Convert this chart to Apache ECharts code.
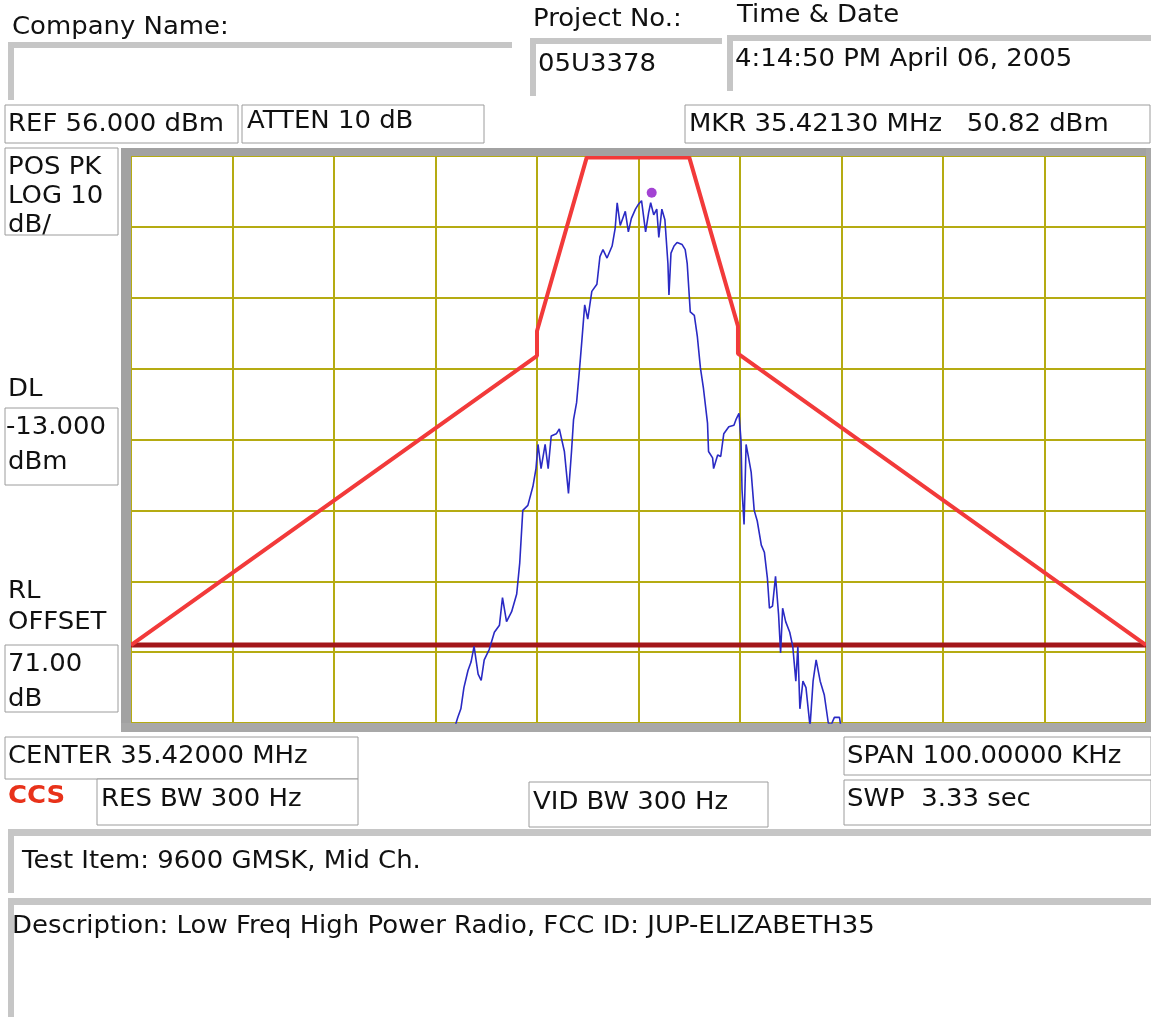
<!DOCTYPE html>
<html>
<head>
<meta charset="utf-8">
<script src="https://cdn.jsdelivr.net/npm/echarts@6/dist/echarts.min.js"></script>
<style>
html, body { margin: 0; padding: 0; background: #fff; }
#chart { width: 1151px; height: 1017px; }
</style>
</head>
<body>
<div id="chart"></div>
<script>
// analyzer settings, x values are kHz offset from center 35.42 MHz
const refLevel = 56
const bottomLevel = -24
const halfSpan = 50
const dlLevel = -13

// emission limit mask (red)
const maskFreq = [-50, -10, -10, -5.1, 5.0, 9.8, 9.8, 50]
const maskLevel = [-13, 27.8, 31.3, 55.8, 55.8, 32.0, 28.1, -13]

const traceFreq = [
  -18.6, -18.3, -17.8, -17.5, -17.2, -16.8, -16.5, -16.2, -15.8, -15.5,
  -15.2, -14.7, -14.2, -13.7, -13.4, -13.0, -12.5, -12.0, -11.7, -11.4,
  -10.9, -10.4, -10.1, -9.9, -9.6, -9.2, -8.9, -8.6, -8.1, -7.8,
  -7.3, -6.9, -6.6, -6.4, -6.1, -5.8, -5.6, -5.3, -5.0, -4.6,
  -4.1, -3.8, -3.5, -3.1, -2.6, -2.3, -2.1, -1.8, -1.3, -1.0,
  -0.7, -0.3,
  0.0, 0.3, 0.7, 1.0, 1.2, 1.5, 1.8, 2.0, 2.3, 2.6,
  2.9, 3.0, 3.2, 3.5, 3.8, 4.3, 4.6, 4.8, 5.1, 5.5,
  5.8, 6.1, 6.4, 6.8, 6.9, 7.3, 7.4, 7.8, 8.1, 8.4,
  8.9, 9.4, 9.6, 9.9, 10.1, 10.2, 10.4, 10.6, 10.8, 11.1,
  11.4, 11.7, 12.1, 12.4, 12.7, 12.9, 13.2, 13.5, 13.8, 14.0,
  14.2, 14.5, 14.9, 15.2, 15.5, 15.7, 15.9, 16.2, 16.5, 16.9,
  17.2, 17.5, 17.9, 18.3, 18.7, 19.0, 19.3, 19.8, 20.1
]
const traceLevel = [
  -27, -25.5, -23.2, -22, -19, -16.6, -15.4, -13.2, -17.1, -18,
  -15.1, -13.6, -11.2, -10.2, -6.3, -9.7, -8.3, -5.8, -1.4, 6.0,
  6.7, 9.4, 11.9, 15.3, 11.9, 15.3, 11.9, 16.5, 16.8, 17.5,
  14.3, 8.4, 14.3, 18.8, 21.2, 26.1, 29.6, 35.0, 33.0, 36.9,
  37.9, 41.8, 42.8, 41.6, 43.3, 45.8, 49.4, 46.2, 48.2, 45.3,
  47.2, 48.5,
  49.2, 49.7, 45.3, 48.0, 49.4, 47.7, 48.5, 44.5, 48.5, 47.0,
  40.8, 36.4, 42.3, 43.3, 43.8, 43.5, 42.8, 40.8, 34.0, 33.5,
  30.5, 26.1, 23.2, 18.3, 14.3, 13.4, 11.9, 13.8, 13.6, 16.8,
  17.8, 18.0, 18.8, 19.7, 15.8, 8.9, 4.0, 15.3, 13.8, 11.4,
  6.0, 4.5, 1.1, 0.1, -3.6, -7.8, -7.5, -3.3, -8.7, -14.1,
  -7.8, -9.7, -11.2, -13.2, -18.1, -13.2, -22, -18.1, -19, -24.5,
  -18.1, -15.1, -18.1, -20, -24, -24.2, -23.2, -23.2, -26
]

// marker: 35.42130 MHz, 50.82 dBm
const markerFreq = 1.3
const markerLevel = 50.82

const FONT = '"DejaVu Sans", Verdana, sans-serif'
const chart = echarts.init(document.getElementById('chart'))

// the analyzer font is a bit stretched sideways, so widen the text a little
function txt(x, y, text, extra) {
  return {
    type: 'text', x: x, y: y, z: 10, scaleX: 1.08,
    style: Object.assign({
      text: text, fill: '#111', fontSize: 24, fontFamily: FONT,
      verticalAlign: 'middle'
    }, extra || {})
  }
}
function box(x, y, w, h) {
  return {
    type: 'rect', z: 5,
    shape: { x: x, y: y, width: w, height: h },
    style: { fill: '#fff', stroke: '#9c9c9c', lineWidth: 1 }
  }
}
function bar(x, y, w, h, color) {
  return {
    type: 'rect', z: 5,
    shape: { x: x, y: y, width: w, height: h },
    style: { fill: color || '#c6c6c6' }
  }
}

const graphics = [
  // header fields
  txt(12, 28, 'Company Name:'),
  bar(8, 42, 504, 6), bar(8, 42, 6, 58),
  txt(533, 20, 'Project No.:'),
  bar(530, 38, 192, 6), bar(530, 38, 6, 58),
  txt(538, 65, '05U3378'),
  txt(737, 16, 'Time & Date'),
  bar(727, 35, 424, 6), bar(727, 35, 6, 56),
  txt(735, 60, '4:14:50 PM April 06, 2005'),

  box(5, 105, 233, 38), txt(8, 125, 'REF ' + refLevel.toFixed(3) + ' dBm'),
  box(242, 105, 242, 38), txt(247, 122, 'ATTEN 10 dB'),
  box(685, 105, 465, 38),
  txt(689, 125, 'MKR 35.42130 MHz   ' + markerLevel.toFixed(2) + ' dBm'),

  // left side panel
  box(5, 148, 113, 87),
  txt(8, 168, 'POS PK'), txt(8, 197, 'LOG 10'), txt(8, 226, 'dB/'),
  txt(8, 390, 'DL'),
  box(5, 408, 113, 77),
  txt(6, 428, dlLevel.toFixed(3)), txt(8, 463, 'dBm'),
  txt(8, 592, 'RL'), txt(8, 623, 'OFFSET'),
  box(5, 645, 113, 67),
  txt(8, 665, '71.00'), txt(8, 700, 'dB'),

  // plot frame
  bar(121, 148, 1030, 8, '#a2a2a2'),
  bar(121, 148, 10, 584, '#a2a2a2'),
  bar(121, 723, 1030, 9, '#a8a8a8'),
  bar(1146, 148, 5, 584, '#a8a8a8'),

  // bottom settings
  box(5, 737, 353, 42), txt(8, 757, 'CENTER 35.42000 MHz'),
  txt(8, 797, 'CCS', { fill: '#e8321a', fontWeight: 'bold' }),
  box(97, 779, 261, 46), txt(101, 800, 'RES BW 300 Hz'),
  box(529, 782, 239, 45), txt(533, 803, 'VID BW 300 Hz'),
  box(844, 737, 307, 38), txt(847, 757, 'SPAN 100.00000 KHz'),
  box(844, 780, 307, 45), txt(847, 800, 'SWP  3.33 sec'),

  // footer
  bar(8, 829, 1143, 7), bar(8, 829, 6, 64),
  txt(22, 862, 'Test Item: 9600 GMSK, Mid Ch.'),
  bar(8, 898, 1143, 7), bar(8, 898, 6, 119),
  txt(12, 927, 'Description: Low Freq High Power Radio, FCC ID: JUP-ELIZABETH35')
]

const option = {
  animation: false,
  backgroundColor: '#fff',
  grid: { left: 131, top: 156, width: 1015, height: 567, show: true, backgroundColor: '#fff', borderWidth: 0 },
  xAxis: {
    type: 'value', min: -halfSpan, max: halfSpan, interval: 10,
    axisLine: { show: false }, axisTick: { show: false }, axisLabel: { show: false },
    splitLine: { show: true, lineStyle: { color: '#b5ab12', width: 2 } }
  },
  yAxis: [
    {
      type: 'value', min: bottomLevel, max: refLevel,
      axisLine: { show: false }, axisTick: { show: false }, axisLabel: { show: false },
      splitLine: { show: false }
    },
    {
      // graticule, 8 divisions of 10 dB
      type: 'value', min: 0, max: 8, interval: 1,
      axisLine: { show: false }, axisTick: { show: false }, axisLabel: { show: false },
      splitLine: { show: true, lineStyle: { color: '#b5ab12', width: 2 } }
    }
  ],
  series: [
    {
      name: 'DL', type: 'line', yAxisIndex: 0, showSymbol: false, silent: true,
      data: [[-halfSpan, dlLevel], [halfSpan, dlLevel]],
      lineStyle: { color: '#a3161a', width: 5 }, z: 3
    },
    {
      name: 'mask', type: 'line', yAxisIndex: 0, showSymbol: false, clip: false,
      data: maskFreq.map((f, i) => [f, maskLevel[i]]),
      lineStyle: { color: '#f23a3a', width: 4 }, z: 4
    },
    {
      name: 'trace', type: 'line', yAxisIndex: 0, showSymbol: false,
      data: traceFreq.map((f, i) => [f, traceLevel[i]]),
      lineStyle: { color: '#2a2ac4', width: 1.6 }, z: 5
    },
    {
      name: 'marker', type: 'scatter', yAxisIndex: 0,
      data: [[markerFreq, markerLevel]],
      symbolSize: 10, itemStyle: { color: '#8c14c8' }, z: 6
    }
  ],
  graphic: graphics
}

chart.setOption(option)
</script>
</body>
</html>
